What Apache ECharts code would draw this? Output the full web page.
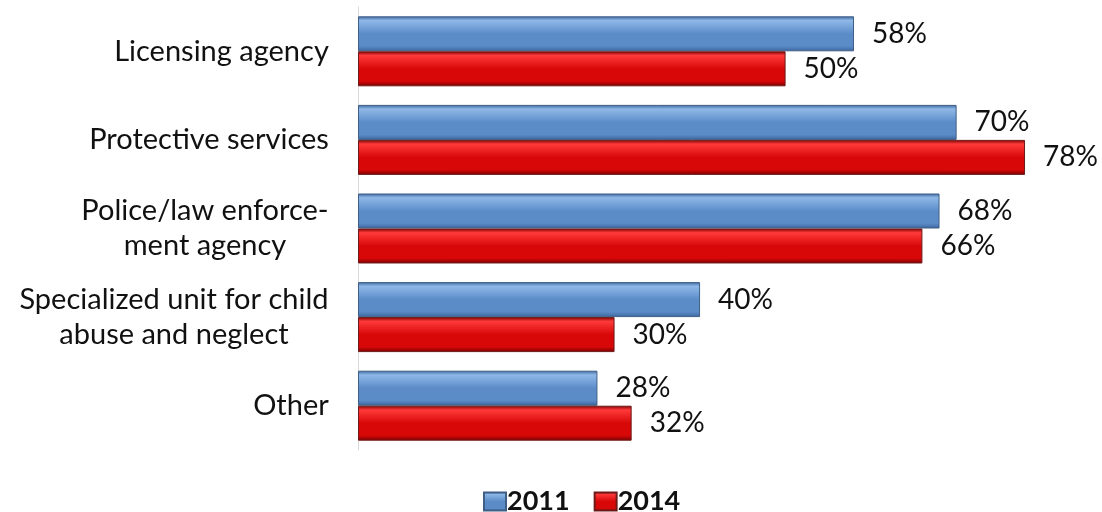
<!DOCTYPE html>
<html>
<head>
<meta charset="utf-8">
<script src="https://cdn.jsdelivr.net/npm/echarts@6/dist/echarts.min.js"></script>
<style>
  html, body { margin: 0; padding: 0; background: #ffffff; }
  #chart { width: 1102px; height: 512px; }
</style>
</head>
<body>
<div id="chart"></div>
<script>
// Agencies receiving reports, share of respondents by survey year
const categories = [
  'Licensing agency',
  'Protective services',
  'Police/law enforce-\nment agency',
  'Specialized unit for child\nabuse and neglect',
  'Other'
];
const seriesNames = ['2011', '2014'];
const values2011 = [58, 70, 68, 40, 28];
const values2014 = [50, 78, 66, 30, 32];

const FONT = 'Lato, "Open Sans", sans-serif';
const CAT_SIZE = 29;
const VALUE_SIZE = 28;

function bevel(top, mid, bottom) {
  return new echarts.graphic.LinearGradient(0, 0, 0, 1, [
    { offset: 0, color: bottom },
    { offset: 0.12, color: top },
    { offset: 0.5, color: mid },
    { offset: 0.85, color: mid },
    { offset: 1, color: bottom }
  ]);
}

const blueFill = bevel('#8fb8e8', '#5b8cc8', '#3b659c');
const redFill = bevel('#ff3a3a', '#d80808', '#7a0000');

// Multi-line category labels: each block is right-aligned to the axis,
// its lines centred within the block's own width.
const measureCtx = document.createElement('canvas').getContext('2d');
measureCtx.font = CAT_SIZE + 'px ' + FONT;
const labelRich = {};
categories.forEach((c, i) => {
  const w = Math.max(...c.split('\n').map(l => measureCtx.measureText(l).width));
  labelRich['c' + i] = {
    width: Math.ceil(w) + 2,
    align: 'center',
    fontSize: CAT_SIZE,
    fontFamily: FONT,
    color: '#111111',
    lineHeight: 35
  };
});

function makeSeries(name, data, fill, border) {
  return {
    name: name,
    type: 'bar',
    data: data,
    barGap: '0%',
    barCategoryGap: '21%',
    itemStyle: { color: fill, borderColor: border, borderWidth: 1 },
    label: {
      show: true,
      position: 'right',
      distance: 18,
      formatter: '{c}%',
      color: '#111111',
      fontSize: VALUE_SIZE,
      fontFamily: FONT
    }
  };
}

const chart = echarts.init(document.getElementById('chart'));
chart.setOption({
  animation: false,
  backgroundColor: '#ffffff',
  legend: {
    data: [
      { name: '2011', itemStyle: { color: blueFill } },
      { name: '2014', itemStyle: { color: redFill } }
    ],
    left: 478,
    top: 483,
    icon: 'rect',
    itemWidth: 22,
    itemHeight: 18,
    itemGap: 24,
    textStyle: { fontSize: 27, fontWeight: 'bold', fontFamily: FONT, color: '#111111', padding: [0, 0, 0, -4] }
  },
  grid: { left: 358, top: 7, right: 0, height: 443, containLabel: false },
  xAxis: {
    type: 'value',
    min: 0,
    max: 87,
    show: false
  },
  yAxis: {
    type: 'category',
    inverse: true,
    data: categories,
    axisLine: { show: true, lineStyle: { color: '#d9d9d9', width: 1 } },
    axisTick: { show: false },
    axisLabel: {
      margin: 28,
      align: 'right',
      formatter: (v, i) => v.split('\n').map(l => '{c' + i + '|' + l + '}').join('\n'),
      rich: labelRich
    }
  },
  series: [
    makeSeries(seriesNames[0], values2011, blueFill, '#3f5f86'),
    makeSeries(seriesNames[1], values2014, redFill, '#6e1a1a')
  ]
});
</script>
</body>
</html>
